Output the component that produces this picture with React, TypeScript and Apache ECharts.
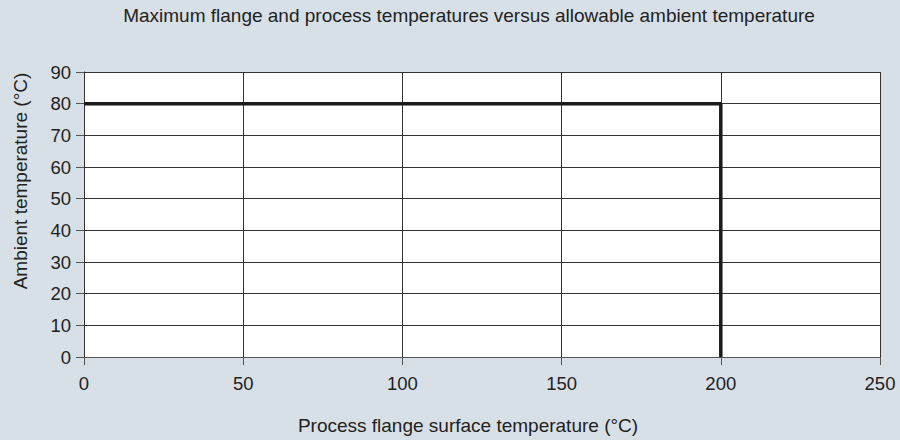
import React, { useEffect, useRef } from "react";
import * as echarts from "echarts";

const xTicks = [0, 50, 100, 150, 200, 250];
const yMax = 90;
const limitCurveX = [0, 200, 200];
const limitCurveY = [80, 80, 0];
const titleText = "Maximum flange and process temperatures versus allowable ambient temperature";
const xName = "Process flange surface temperature (°C)";
const yName = "Ambient temperature (°C)";

export default function App() {
  const ref = useRef<HTMLDivElement>(null);
  useEffect(() => {
    document.body.style.margin = "0";
    const chart = echarts.init(ref.current!, null, { renderer: "svg" });
    const font = "'Liberation Sans', Arial, sans-serif";
    const txt = "#222";
    chart.setOption({
      animation: false,
      backgroundColor: "#d8e0e7",
      textStyle: { fontFamily: font },
      graphic: [
        {
          type: "text",
          x: 469,
          y: 15,
          style: { text: titleText, fontSize: 19, fontFamily: font, fill: txt, textAlign: "center", textVerticalAlign: "middle" },
        },
        {
          type: "text",
          x: 468,
          y: 425,
          style: { text: xName, fontSize: 19, fontFamily: font, fill: txt, textAlign: "center", textVerticalAlign: "middle" },
        },
        {
          type: "text",
          x: 20,
          y: 181,
          rotation: Math.PI / 2,
          style: { text: yName, fontSize: 19, fontFamily: font, fill: txt, textAlign: "center", textVerticalAlign: "middle" },
        },
      ],
      grid: {
        left: 84,
        right: 20,
        top: 72,
        bottom: 83,
        backgroundColor: "#ffffff",
        show: true,
        borderWidth: 0,
        containLabel: false,
        outerBoundsMode: "none",
      },
      xAxis: {
        type: "value",
        min: xTicks[0],
        max: xTicks[xTicks.length - 1],
        interval: 50,
        axisLine: { show: true, lineStyle: { color: "#555", width: 1 } },
        axisTick: { show: true, length: 8, lineStyle: { color: "#555" } },
        axisLabel: { fontSize: 18.5, color: txt, margin: 17 },
        splitLine: { show: true, lineStyle: { color: "#333", width: 1 } },
      },
      yAxis: {
        type: "value",
        min: 0,
        max: yMax,
        interval: 10,
        axisLine: { show: true, lineStyle: { color: "#333", width: 1 } },
        axisTick: { show: true, length: 8, lineStyle: { color: "#555" } },
        axisLabel: { fontSize: 18.5, color: txt, margin: 13 },
        splitLine: { show: true, lineStyle: { color: "#333", width: 1 } },
      },
      series: [
        {
          type: "line",
          data: limitCurveX.map((x, i) => [x, limitCurveY[i]]),
          showSymbol: false,
          lineStyle: { color: "#1a1a1a", width: 3.5 },
          z: 5,
        },
      ],
    });
    return () => chart.dispose();
  }, []);
  return <div ref={ref} style={{ width: 900, height: 440 }} />;
}
